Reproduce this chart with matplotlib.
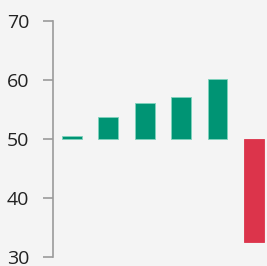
import matplotlib
matplotlib.use("Agg")
import matplotlib.pyplot as plt

categories = ["A", "B", "C", "D", "E", "F"]
values = [50.5, 53.8, 56.1, 57.1, 60.1, 32.6]
baseline = 50
colors = ["#009474", "#009474", "#009474", "#009474", "#009474", "#dc344b"]
edges = ["#7fd3bd", "#7fd3bd", "#7fd3bd", "#7fd3bd", "#7fd3bd", "#dc344b"]
yticks = [30, 40, 50, 60, 70]

fig = plt.figure(figsize=(2.67, 2.66), dpi=100)
fig.patch.set_facecolor("#f4f4f4")
ax = fig.add_axes([0.1985, 0.034, 0.8015, 0.887])
ax.set_facecolor("#f4f4f4")

x = list(range(len(categories)))
heights = [v - baseline for v in values]
ax.bar(x, heights, bottom=baseline, width=0.54, color=colors,
       edgecolor=edges, linewidth=0.6)

ax.set_ylim(30, 70)
ax.set_xlim(-0.52, 5.36)
ax.set_yticks(yticks)
ax.set_yticklabels([str(t) for t in yticks], fontsize=14, color="#222222",
                   family=["Open Sans", "DejaVu Sans"])
ax.set_xticks([])
for s in ["top", "right", "bottom"]:
    ax.spines[s].set_visible(False)
ax.spines["left"].set_color("#9a9a9a")
ax.spines["left"].set_linewidth(1.2)
ax.tick_params(axis="y", length=7, width=1.2, color="#9a9a9a", pad=10)

fig.savefig("out.png", dpi=100, facecolor=fig.get_facecolor())
